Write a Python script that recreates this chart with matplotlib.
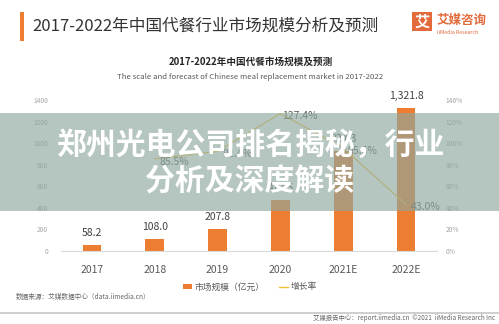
import matplotlib
matplotlib.use("Agg")
import matplotlib.pyplot as plt
from matplotlib.patches import Rectangle
from matplotlib.lines import Line2D
from matplotlib.patches import Patch

plt.rcParams['font.family'] = ['Noto Sans CJK SC', 'DejaVu Sans']

years = ["2017", "2018", "2019", "2020", "2021E", "2022E"]
market_size = [58.2, 108.0, 207.8, 472.5, 924.3, 1321.8]
growth_years = ["2018", "2019", "2020", "2021E", "2022E"]
growth_rate = [85.5, 92.4, 127.4, 95.6, 43.0]
left_ticks = [0, 200, 400, 600, 800, 1000, 1200, 1400]
right_ticks = [0, 20, 40, 60, 80, 100, 120, 140]

W, H = 499, 324
fig = plt.figure(figsize=(W / 100, H / 100), dpi=100)
fig.patch.set_facecolor('white')

def fx(x):
    return x / W

def fy(y):
    return 1 - y / H

ORANGE = '#ed7d31'
YELLOW = '#f2c335'

# main axes
left_px, right_px, top_px, bot_px = 60.6, 437.4, 100, 251
ax = fig.add_axes([fx(left_px), fy(bot_px), (right_px - left_px) / W, (bot_px - top_px) / H])
xs = list(range(len(years)))
ax.bar(xs, market_size, width=0.30, color=ORANGE, zorder=2)
for x, v in zip(xs, market_size):
    ax.annotate(f"{v:,.1f}", (x, v), xytext=(0, 5), textcoords='offset points',
                ha='center', va='bottom', fontsize=7.5, color='#404040')
ax.set_xlim(-0.5, len(years) - 0.5)
ax.set_ylim(0, 1400)
ax.set_yticks(left_ticks)
ax.set_yticklabels([str(t) for t in left_ticks])
ax.set_xticks(xs)
ax.set_xticklabels(years)
ax.tick_params(axis='y', length=0, labelsize=4.8, labelcolor='#a6a6a6', pad=9)
ax.tick_params(axis='x', length=0, labelsize=7.5, labelcolor='#595959', pad=10)
for s in ['top', 'right', 'left']:
    ax.spines[s].set_visible(False)
ax.spines['bottom'].set_color('#d9d9d9')
ax.spines['bottom'].set_linewidth(0.8)
ax.set_facecolor('none')

ax2 = ax.twinx()
gx = [years.index(y) for y in growth_years]
ax2.plot(gx, [g / 100 for g in growth_rate], color=YELLOW, lw=0.8, zorder=3)
for x, g in zip(gx, growth_rate):
    ax2.annotate(f"{g:.1f}%", (x, g / 100), xytext=(14, -2), textcoords='offset points',
                 ha='center', va='center', fontsize=7.5, color='#595959')
ax2.set_ylim(0, 1.4)
ax2.set_yticks([t / 100 for t in right_ticks])
ax2.set_yticklabels([f"{t}%" for t in right_ticks])
ax2.tick_params(axis='y', length=0, labelsize=4.8, labelcolor='#a6a6a6', pad=6)
for s in ['top', 'right', 'left', 'bottom']:
    ax2.spines[s].set_visible(False)
ax2.set_xlim(-0.5, len(years) - 0.5)

# legend
handles = [Patch(facecolor=ORANGE, edgecolor='none'), Line2D([0], [0], color=YELLOW, lw=1)]
fig.legend(handles, ["市场规模（亿元）", "增长率"], loc='center', bbox_to_anchor=(fx(250), fy(287)),
           ncol=2, frameon=False, fontsize=6.3, handlelength=1.0, handleheight=0.6,
           columnspacing=1.6, handletextpad=0.3, labelcolor='#595959')

# header
fig.add_artist(Rectangle((fx(20), fy(41)), 3.5 / W, 29 / H, transform=fig.transFigure,
                         facecolor=ORANGE, edgecolor='none'))
fig.text(fx(32), fy(26), "2017-2022年中国代餐行业市场规模分析及预测", fontsize=12,
         color='#333333', ha='left', va='center', weight='medium')
# logo
fig.add_artist(Rectangle((fx(412), fy(31)), 20 / W, 19 / H, transform=fig.transFigure,
                         facecolor='#e36a3b', edgecolor='none'))
fig.text(fx(422), fy(21.5), "艾", fontsize=11, color='white', ha='center', va='center', weight='bold')
fig.text(fx(437), fy(20), "艾媒咨询", fontsize=9, color='#e36a3b', ha='left', va='center', weight='bold')
fig.text(fx(437), fy(32), "iiMedia Research", fontsize=3.8, color='#e36a3b', ha='left', va='center')

# chart title
fig.text(fx(251), fy(62), "2017-2022年中国代餐市场规模及预测", fontsize=6.9, color='#262626',
         ha='center', va='center', weight='bold')
fig.text(fx(250), fy(77), "The scale and forecast of Chinese meal replacement market in 2017-2022",
         fontsize=5.6, color='#595959', ha='center', va='center')

# footer
fig.text(fx(16), fy(297), "数据来源：艾媒数据中心（data.iimedia.cn）", fontsize=4.8,
         color='#666666', ha='left', va='center')
fig.add_artist(Rectangle((0, fy(314)), 1, 2.5 / H, transform=fig.transFigure,
                         facecolor='#cfcfcf', edgecolor='none'))
fig.text(fx(495), fy(318), "艾媒报告中心：report.iimedia.cn  ©2021  iiMedia Research Inc", fontsize=4.6,
         color='#666666', ha='right', va='center')

# overlay banner
fig.add_artist(Rectangle((0, fy(211)), 1, 98 / H, transform=fig.transFigure,
                         facecolor='#8fa79e', alpha=0.66, edgecolor='none', zorder=10))
fig.text(fx(250), fy(145), "郑州光电公司排名揭秘，行业", fontsize=21.5, color='white',
         ha='center', va='center', weight='bold', zorder=11)
fig.text(fx(250), fy(182), "分析及深度解读", fontsize=21.5, color='white',
         ha='center', va='center', weight='bold', zorder=11)

fig.savefig("out.png", dpi=100, facecolor='white')
